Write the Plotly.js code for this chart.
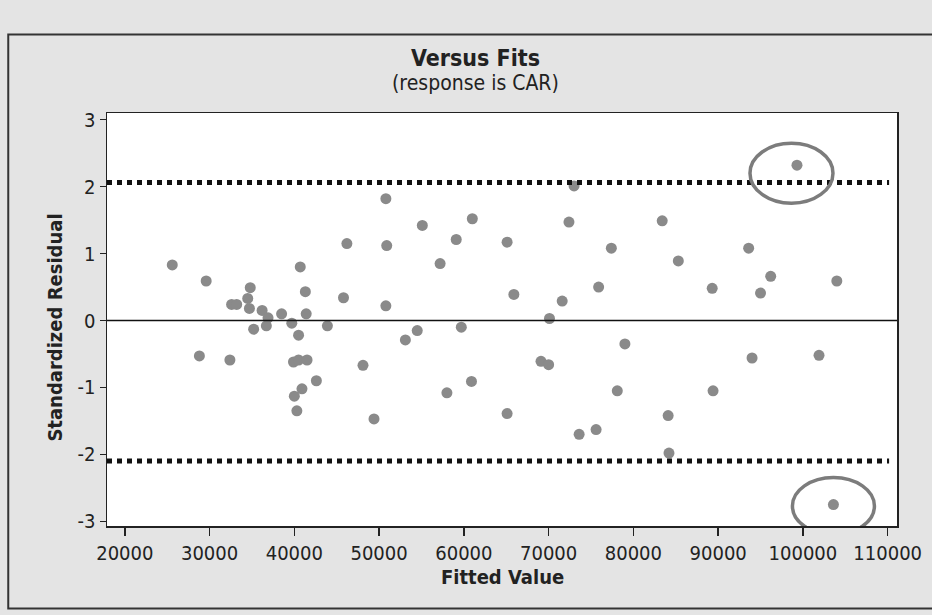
<!DOCTYPE html>
<html>
<head>
<meta charset="utf-8">
<script src="https://cdn.plot.ly/plotly-3.0.1.min.js"></script>
<style>html,body{margin:0;padding:0;background:#e4e4e4;}#chart{width:932px;height:615px;}</style>
</head>
<body>
<div id="chart"></div>
<script>
// Fitted values (x) and standardized residuals (y)
const fittedValues = [
  25600, 29600, 28800, 32400, 32600, 33200, 34500, 34800, 34700, 35200,
  36200, 36900, 36700, 38500, 39700, 39900, 40500, 40500, 40700, 41300,
  41400, 41500, 42600, 40900, 40000, 40300, 43900, 45800, 46200, 48100,
  49400, 50800, 50900, 50800, 53100, 54500, 55100, 57200, 58000, 59100,
  59700, 60900, 61000, 65100, 65100, 65900, 69100, 70000, 70100, 71600,
  72400, 73000, 73600, 75600, 75900, 77400, 78100, 79000, 83400, 84100,
  84200, 85300, 89300, 89400, 93600, 94000, 95000, 96200, 99300, 101900,
  103600, 104000
];
const stdResiduals = [
  0.83, 0.59, -0.53, -0.59, 0.24, 0.24, 0.33, 0.49, 0.18, -0.13,
  0.15, 0.04, -0.08, 0.10, -0.04, -0.62, -0.59, -0.22, 0.80, 0.43,
  0.10, -0.59, -0.90, -1.02, -1.13, -1.35, -0.08, 0.34, 1.15, -0.67,
  -1.47, 1.82, 1.12, 0.22, -0.29, -0.15, 1.42, 0.85, -1.08, 1.21,
  -0.10, -0.91, 1.52, 1.17, -1.39, 0.39, -0.61, -0.66, 0.03, 0.29,
  1.47, 2.01, -1.70, -1.63, 0.50, 1.08, -1.05, -0.35, 1.49, -1.42,
  -1.98, 0.89, 0.48, -1.05, 1.08, -0.56, 0.41, 0.66, 2.32, -0.52,
  -2.75, 0.59
];
const xTickValues = [20000, 30000, 40000, 50000, 60000, 70000, 80000, 90000, 100000, 110000];
const yTickValues = [-3, -2, -1, 0, 1, 2, 3];
const upperLimit = 2.06;
const lowerLimit = -2.1;
// circled outliers (indices into the arrays)
const outlierIdx = [68, 70];

const FONT = '"DejaVu Sans Condensed", "DejaVu Sans", sans-serif';

const trace = {
  type: 'scatter',
  mode: 'markers',
  x: fittedValues,
  y: stdResiduals,
  marker: {color: '#8a8a8a', size: 11, line: {width: 0}},
  hoverinfo: 'x+y'
};

const ellipseOffsets = [
  {x0: -47, x1: 36, y0: -38, y1: 22},
  {x0: -41, x1: 41, y0: -30, y1: 27}
];

const shapes = [
  {type: 'line', xref: 'paper', yref: 'y', x0: 0, x1: 1, y0: 0, y1: 0,
   line: {color: '#111', width: 1.5}},
  {type: 'line', xref: 'paper', yref: 'y', x0: 0, x1: 0.99, y0: upperLimit, y1: upperLimit,
   line: {color: '#111', width: 5, dash: '5px,5px'}},
  {type: 'line', xref: 'paper', yref: 'y', x0: 0, x1: 0.99, y0: lowerLimit, y1: lowerLimit,
   line: {color: '#111', width: 5, dash: '5px,5px'}},
  {type: 'rect', xref: 'paper', yref: 'paper', x0: -0.125, x1: 1.2, y0: -0.2, y1: 1.19,
   line: {color: '#333', width: 2}, fillcolor: 'rgba(0,0,0,0)', layer: 'below'}
];
outlierIdx.forEach((idx, k) => {
  const o = ellipseOffsets[k];
  shapes.push({
    type: 'circle', xref: 'x', yref: 'y',
    xsizemode: 'pixel', ysizemode: 'pixel',
    xanchor: fittedValues[idx], yanchor: stdResiduals[idx],
    x0: o.x0, x1: o.x1, y0: o.y0, y1: o.y1,
    line: {color: '#7c7c7c', width: 3.5}
  });
});

const layout = {
  width: 932, height: 615,
  margin: {l: 107, r: 35, t: 113, b: 89},
  paper_bgcolor: '#e4e4e4',
  plot_bgcolor: '#ffffff',
  font: {family: FONT, size: 20, color: '#222'},
  showlegend: false,
  xaxis: {
    range: [17900, 111100],
    tickvals: xTickValues,
    ticktext: xTickValues.map(String),
    ticks: 'outside', ticklen: 8, tickwidth: 1.5, tickcolor: '#222',
    showline: true, mirror: true, linecolor: '#222', linewidth: 1.5,
    showgrid: false, zeroline: false,
    tickfont: {family: FONT, size: 20, color: '#222'}
  },
  yaxis: {
    range: [-3.07, 3.1],
    tickvals: yTickValues,
    ticktext: yTickValues.map(String),
    ticks: 'outside', ticklen: 6, tickwidth: 1.5, tickcolor: '#222',
    showline: true, mirror: true, linecolor: '#222', linewidth: 1.5,
    showgrid: false, zeroline: false,
    tickfont: {family: FONT, size: 20, color: '#222'}
  },
  shapes: shapes,
  annotations: [
    {text: '<b>Versus Fits</b>', xref: 'paper', yref: 'paper', x: 0.467, y: 1.133,
     showarrow: false, xanchor: 'center', yanchor: 'middle',
     font: {family: FONT, size: 23, color: '#222'}},
    {text: '(response is CAR)', xref: 'paper', yref: 'paper', x: 0.467, y: 1.072,
     showarrow: false, xanchor: 'center', yanchor: 'middle',
     font: {family: FONT, size: 21, color: '#222'}},
    {text: '<b>Standardized Residual</b>', xref: 'paper', yref: 'paper', x: -0.066, y: 0.48,
     showarrow: false, textangle: -90, xanchor: 'center', yanchor: 'middle',
     font: {family: FONT, size: 20, color: '#222'}},
    {text: '<b>Fitted Value</b>', xref: 'paper', yref: 'paper', x: 0.5, y: -0.124,
     showarrow: false, xanchor: 'center', yanchor: 'middle',
     font: {family: FONT, size: 20, color: '#222'}}
  ]
};

Plotly.newPlot('chart', [trace], layout, {displayModeBar: false, staticPlot: true});
</script>
</body>
</html>
